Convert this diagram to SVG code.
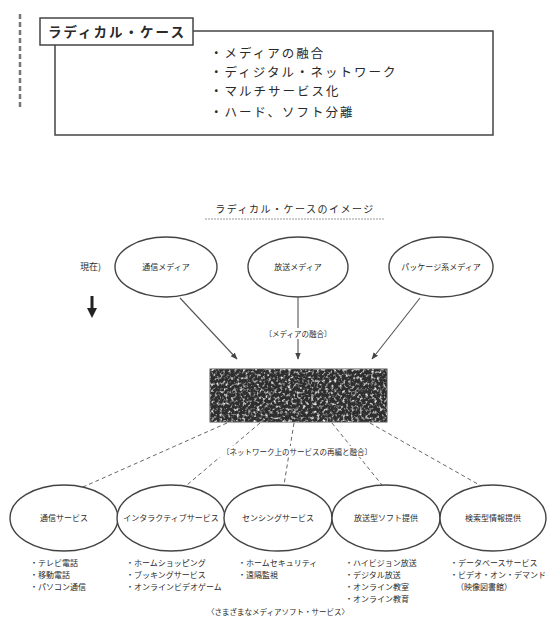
<svg xmlns="http://www.w3.org/2000/svg" width="548" height="630" viewBox="0 0 548 630">
<defs>
<style>
text{font-family:"Noto Sans CJK JP","Noto Sans CJK SC",sans-serif;fill:#2a2a2a}
.box{fill:#fff;stroke:#444;stroke-width:1.5}
.ell{fill:#fff;stroke:#444;stroke-width:1.4}
.lbl{font-size:8px;text-anchor:middle}
.li{font-size:8px}
.bul{font-size:12.5px;letter-spacing:2px}
.solid{stroke:#555;stroke-width:1.1;fill:none}
.dash{stroke:#666;stroke-width:1;fill:none;stroke-dasharray:4 3}
</style>
<marker id="ah" viewBox="0 0 10 10" refX="9" refY="5" markerWidth="7" markerHeight="7" orient="auto" markerUnits="userSpaceOnUse">
<path d="M0,1 L10,5 L0,9 z" fill="#444"/>
</marker>
<filter id="noise" x="0" y="0" width="100%" height="100%">
<feTurbulence type="fractalNoise" baseFrequency="0.35" numOctaves="2" seed="5"/>
<feColorMatrix type="matrix" values="0 0 0 0 0.85  0 0 0 0 0.85  0 0 0 0 0.85  0 0 0 -3 1.55"/>
</filter>
</defs>

<g id="margin-mark">
<line x1="20" y1="14" x2="20" y2="110" stroke="#777" stroke-width="2.5" stroke-dasharray="5 3"/>
</g>

<g id="radical-case">
<rect class="box" x="55" y="31" width="438" height="104"/>
<rect class="box" x="40" y="18" width="153" height="27"/>
<text x="48" y="37" font-size="13.5" font-weight="bold" letter-spacing="2">ラディカル・ケース</text>
<text class="bul" x="210" y="58">・メディアの融合</text>
<text class="bul" x="210" y="77">・ディジタル・ネットワーク</text>
<text class="bul" x="210" y="96">・マルチサービス化</text>
<text class="bul" x="210" y="117">・ハード、ソフト分離</text>
</g>

<g id="title">
<text x="295" y="213" font-size="10" text-anchor="middle" letter-spacing="1.5">ラディカル・ケースのイメージ</text>
<line x1="205" y1="219" x2="385" y2="219" stroke="#999" stroke-width="1" stroke-dasharray="2 1"/>
</g>

<g id="now">
<text x="80" y="270" font-size="9">現在)</text>
<path d="M92,296 L92,310" stroke="#222" stroke-width="3"/>
<path d="M87,308 L97,308 L92,318 z" fill="#222"/>
</g>

<g id="tsushin-media">
<ellipse class="ell" cx="166" cy="267" rx="51" ry="30"/>
<text class="lbl" x="166" y="270">通信メディア</text>
</g>
<g id="hoso-media">
<ellipse class="ell" cx="298" cy="267" rx="50" ry="30"/>
<text class="lbl" x="298" y="270">放送メディア</text>
</g>
<g id="package-media">
<ellipse class="ell" cx="441" cy="267" rx="52" ry="30"/>
<text class="lbl" x="441" y="270">パッケージ系メディア</text>
</g>

<g id="network">
<rect x="210" y="369" width="177" height="53" fill="#2e2e2e" stroke="#555" stroke-width="1"/>
<rect x="210" y="369" width="177" height="53" fill="#888" filter="url(#noise)"/>
</g>

<g id="connectors">
<path class="solid" d="M180,298 L237,359" marker-end="url(#ah)"/>
<path class="solid" d="M298,297 L298,359" marker-end="url(#ah)"/>
<path class="solid" d="M420,298 L372,359" marker-end="url(#ah)"/>
<path class="dash" d="M227,423 L83,487"/>
<path class="dash" d="M260,423 L187,485"/>
<path class="dash" d="M294,423 L284,485"/>
<path class="dash" d="M332,423 L382,485"/>
<path class="dash" d="M370,423 L483,487"/>
</g>
<g id="connector-labels">
<rect x="260" y="328" width="76" height="11" fill="#fff"/>
<text x="298" y="337" font-size="7.5" text-anchor="middle">〔メディアの融合〕</text>
<rect x="208" y="446" width="178" height="11" fill="#fff"/>
<text x="297" y="455" font-size="7.5" text-anchor="middle">〔ネットワーク上のサービスの再編と融合〕</text>
</g>

<g id="tsushin-service">
<ellipse class="ell" cx="64" cy="518" rx="54" ry="33"/>
<text class="lbl" x="64" y="521">通信サービス</text>
<text class="li" x="30" y="566">・テレビ電話</text>
<text class="li" x="30" y="578">・移動電話</text>
<text class="li" x="30" y="590">・パソコン通信</text>
</g>
<g id="interactive-service">
<ellipse class="ell" cx="171" cy="518" rx="54" ry="33"/>
<text class="lbl" x="171" y="521">インタラクティブサービス</text>
<text class="li" x="126" y="566">・ホームショッピング</text>
<text class="li" x="126" y="578">・ブッキングサービス</text>
<text class="li" x="126" y="590">・オンラインビデオゲーム</text>
</g>
<g id="sensing-service">
<ellipse class="ell" cx="278" cy="518" rx="54" ry="33"/>
<text class="lbl" x="278" y="521">センシングサービス</text>
<text class="li" x="238" y="566">・ホームセキュリティ</text>
<text class="li" x="238" y="578">・遠隔監視</text>
</g>
<g id="hoso-soft">
<ellipse class="ell" cx="386" cy="518" rx="54" ry="33"/>
<text class="lbl" x="386" y="521">放送型ソフト提供</text>
<text class="li" x="345" y="566">・ハイビジョン放送</text>
<text class="li" x="345" y="578">・デジタル放送</text>
<text class="li" x="345" y="590">・オンライン教室</text>
<text class="li" x="345" y="602">・オンライン教育</text>
</g>
<g id="kensaku-info">
<ellipse class="ell" cx="493" cy="518" rx="53" ry="33"/>
<text class="lbl" x="493" y="521">検索型情報提供</text>
<text class="li" x="450" y="566">・データベースサービス</text>
<text class="li" x="450" y="578">・ビデオ・オン・デマンド</text>
<text class="li" x="456" y="590">（映像図書館）</text>
</g>

<g id="caption">
<text x="278" y="615" font-size="7.5" text-anchor="middle">〈さまざまなメディアソフト・サービス〉</text>
</g>
</svg>
